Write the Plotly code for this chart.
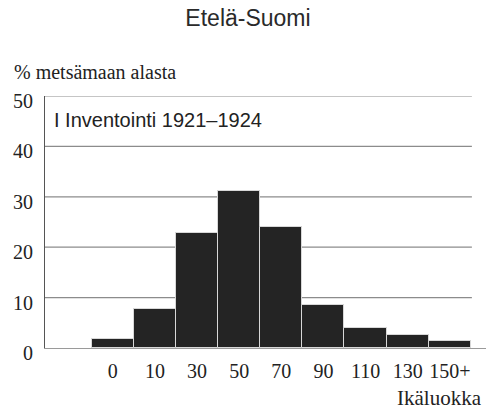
import plotly.graph_objects as go

categories = ["0", "10", "30", "50", "70", "90", "110", "130", "150+"]
values = [1.7, 7.7, 22.9, 31.2, 24.1, 8.6, 3.9, 2.6, 1.4]
y_ticks = [0, 10, 20, 30, 40, 50]
grid_levels = [10, 20, 30, 40, 50]

title_text = "Etelä-Suomi"
y_title = "% metsämaan alasta"
x_title = "Ikäluokka"
note = "I Inventointi 1921–1924"

serif = "Liberation Serif, Times New Roman, serif"
sans = "Liberation Sans, Arial, sans-serif"

fig = go.Figure()
fig.add_trace(go.Bar(
    x=categories, y=values,
    marker=dict(color="#242424", line=dict(color="#d8d8d8", width=1)),
    hoverinfo="skip",
))

shapes = []
for g in grid_levels:
    shapes.append(dict(type="line", xref="paper", yref="y", x0=0, x1=0.968,
                       y0=g, y1=g, layer="below",
                       line=dict(color="#8c8c8c", width=1.2)))

fig.update_layout(
    width=490, height=410,
    margin=dict(l=45, r=4, t=96, b=62, autoexpand=False),
    paper_bgcolor="white", plot_bgcolor="white",
    bargap=0, showlegend=False,
    shapes=shapes,
    title=dict(text=title_text, xref="container", yref="container",
               x=248/490, y=1-18/410, xanchor="center", yanchor="middle",
               font=dict(family=sans, size=23, color="#2a2a2a")),
    xaxis=dict(type="category", range=[-1.61, 8.86], showgrid=False,
               showline=True, linecolor="#9a9a9a", linewidth=1.2,
               ticks="", tickfont=dict(family=serif, size=20, color="#222"),
               ticklabelstandoff=5, zeroline=False, automargin=False),
    yaxis=dict(range=[0, 50], tickvals=y_ticks, showgrid=False,
               showline=True, linecolor="#555", linewidth=1.2,
               ticks="", tickfont=dict(family=serif, size=20, color="#222"),
               ticklabelstandoff=7, ticklabelshift=5, zeroline=False,
               automargin=False),
    annotations=[
        dict(text=y_title, xref="paper", yref="paper", x=(12-45)/441, y=1+(96-72)/252,
             xanchor="left", yanchor="middle", showarrow=False,
             font=dict(family=serif, size=20, color="#222")),
        dict(text=x_title, xref="paper", yref="paper", x=(484-45)/441, y=-(398-348)/252,
             xanchor="right", yanchor="middle", showarrow=False,
             font=dict(family=serif, size=21, color="#222")),
        dict(text=note, xref="paper", yref="paper", x=(52-45)/441, y=1-(120-96)/252,
             xanchor="left", yanchor="middle", showarrow=False,
             font=dict(family=sans, size=20, color="#222")),
    ],
)

fig.write_html("out.html", config={"displayModeBar": False},
               post_script="document.body.style.margin='0';")
